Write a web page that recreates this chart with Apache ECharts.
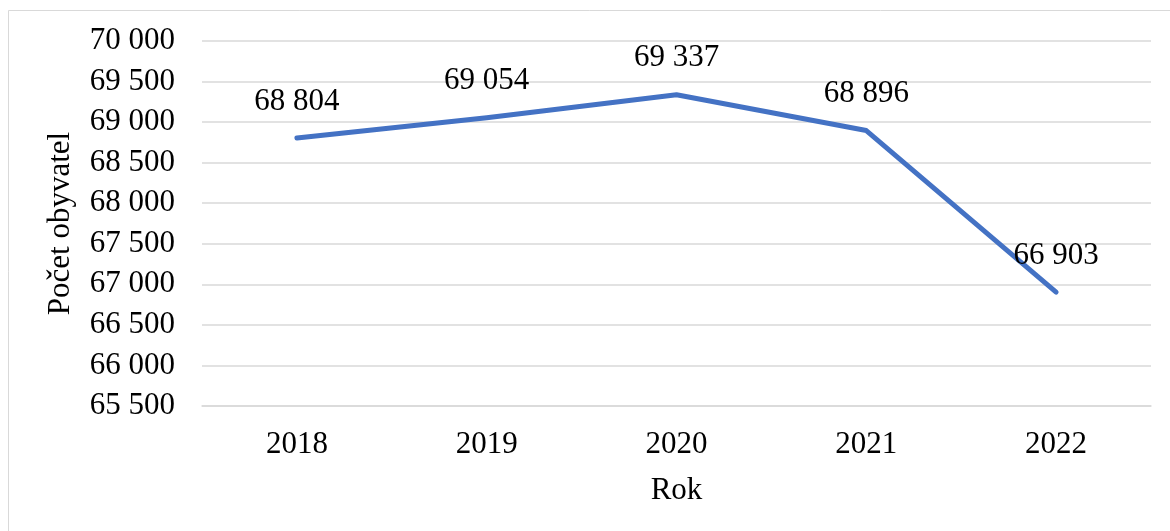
<!DOCTYPE html>
<html>
<head>
<meta charset="utf-8">
<style>
  html, body { margin: 0; padding: 0; background: #fff; overflow: hidden; }
  #chart { width: 1170px; height: 531px; }
</style>
<script src="https://cdn.jsdelivr.net/npm/echarts@6/dist/echarts.min.js"></script>
</head>
<body>
<div id="chart"></div>
<script>
"use strict";

/*****Data*****/
var years = ['2018', '2019', '2020', '2021', '2022'];
var population = [68804, 69054, 69337, 68896, 66903];
var yMin = 65500, yMax = 70000, yStep = 500;

var fontFamily = "'Liberation Serif', 'Times New Roman', serif";

// 69054 -> "69 054"
function spaced(v) {
	return String(v).replace(/\B(?=(\d{3})+(?!\d))/g, ' ');
}

/*****Chart*****/
var chart = echarts.init(document.getElementById('chart'));
var option = {
	animation: false,
	backgroundColor: '#fff',
	textStyle: { fontFamily: fontFamily },
	graphic: [{
		type: 'rect',
		shape: { x: 8.5, y: 10.5, width: 1300, height: 700 },
		style: { fill: 'none', stroke: '#d9d9d9', lineWidth: 1 },
		silent: true
	}],
	grid: {
		left: 202,
		right: 19,
		top: 41,
		bottom: 125
	},
	xAxis: {
		type: 'category',
		data: years,
		boundaryGap: true,
		name: 'Rok',
		nameLocation: 'middle',
		nameGap: 69,
		nameTextStyle: { color: '#000', fontSize: 31, fontFamily: fontFamily },
		axisLine: { show: true, lineStyle: { color: '#d9d9d9', width: 1.5 } },
		axisTick: { show: false },
		axisLabel: { color: '#000', fontSize: 31, margin: 23, fontFamily: fontFamily }
	},
	yAxis: {
		type: 'value',
		min: yMin,
		max: yMax,
		interval: yStep,
		name: 'Počet obyvatel',
		nameLocation: 'middle',
		nameGap: 126,
		nameTextStyle: { color: '#000', fontSize: 31, fontFamily: fontFamily },
		axisLine: { show: false },
		axisTick: { show: false },
		axisLabel: {
			color: '#000',
			fontSize: 31,
			margin: 27,
			fontFamily: fontFamily,
			formatter: function (v) { return spaced(v); }
		},
		splitLine: { show: true, lineStyle: { color: '#d9d9d9', width: 1.5 } }
	},
	series: [{
		type: 'line',
		data: population,
		symbol: 'circle',
		symbolSize: 2,
		showSymbol: true,
		itemStyle: { color: 'rgba(68,114,196,0)', borderWidth: 0 },
		lineStyle: { color: '#4472C4', width: 5, cap: 'round', join: 'round' },
		label: {
			show: true,
			position: 'top',
			distance: 20,
			color: '#000',
			opacity: 1,
			fontSize: 31,
			fontFamily: fontFamily,
			formatter: function (p) { return spaced(p.value); }
		}
	}]
};
chart.setOption(option);
</script>
</body>
</html>
